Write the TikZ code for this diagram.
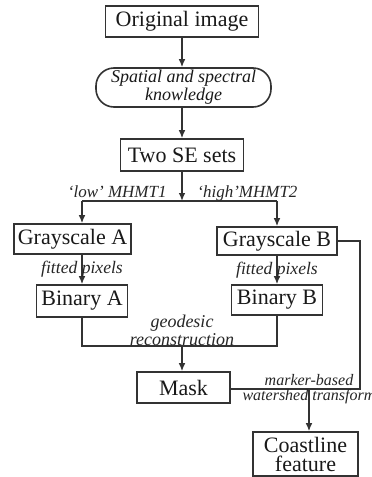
\documentclass[tikz,border=0pt]{standalone}
\usepackage{fontspec}
\setmainfont{Liberation Serif}
\usepackage{tikz}
\usetikzlibrary{arrows.meta, positioning}

\begin{document}
\begin{tikzpicture}[x=0.5pt, y=-0.5pt,
    box/.style={draw=black!80, line width=0.8pt, inner sep=0pt, align=center, text=black!90,
        font=\fontsize{11}{9.5}\selectfont},
    link/.style={draw=black!80, line width=0.75pt},
    arr/.style={link, -{Latex[length=4pt, width=3.4pt]}},
    lab/.style={inner sep=0pt, align=center, text=black!85, font=\fontsize{8}{7.5}\selectfont\itshape}]
    \useasboundingbox (0,0) rectangle (371,477);

    % Main column
    \node[box, minimum width=76.5pt, minimum height=15.5pt] (orig) at (182,21.5) {Original image};
    \node[box, minimum width=87.5pt, minimum height=19.5pt, rounded corners=9pt,
        font=\fontsize{9}{7.5}\selectfont\itshape] (know) at (183.5,87.5) {Spatial and spectral\\knowledge};
    \node[box, minimum width=61.5pt, minimum height=16pt] (twose) at (182,155) {Two SE sets};

    % Two branches
    \node[box, minimum width=58.5pt, minimum height=15pt] (grayA) at (72.5,239) {Grayscale A};
    \node[box, minimum width=60pt, minimum height=14pt] (grayB) at (277,241) {Grayscale B};
    \node[box, minimum width=45.5pt, minimum height=16pt] (binA) at (82,301) {Binary A};
    \node[box, minimum width=45.5pt, minimum height=15pt] (binB) at (277,300) {Binary B};

    % Bottom part
    \node[box, minimum width=46.5pt, minimum height=15.5pt] (mask) at (183.5,387.5) {Mask};
    \node[box, minimum width=52.5pt, minimum height=22pt] (coast) at (305.5,454) {Coastline\\feature};

    % Junction points
    \coordinate (split) at (182,201);
    \coordinate (join) at (182,346);
    \coordinate (rail) at (360,389);
    \coordinate (ws) at (309,389);

    % Connectors
    \draw[arr] (orig) -- (orig |- know.north);
    \draw[arr] (orig |- know.south) -- (orig |- twose.north);
    \draw[arr] (twose) -- (split);
    \draw[link] (split -| binA) -- (split -| grayB);
    \draw[arr] (split -| binA) -- (binA |- grayA.north);
    \draw[arr] (split -| grayB) -- (grayB);
    \draw[arr] (binA |- grayA.south) -- node[lab, font=\fontsize{8.8}{8}\selectfont\itshape] (fitA) {fitted pixels} (binA);
    \draw[arr] (grayB) -- node[lab, font=\fontsize{8.8}{8}\selectfont\itshape] (fitB) {fitted pixels} (binB);
    \draw[link] (binA) |- (join) -| (binB);
    \draw[arr] (join) -- (join |- mask.north);
    \draw[link] (grayB.east) -| (rail) -- (rail -| mask.east);
    \draw[arr] (ws) -- (ws |- coast.north);

    % Labels
    \node[lab, font=\fontsize{8.5}{8}\selectfont\itshape, anchor=base east] (low) at (167,197.5) {‘low’ MHMT1};
    \node[lab, font=\fontsize{8.5}{8}\selectfont\itshape, anchor=base west] (high) at (197,197.5) {‘high’MHMT2};
    \node[lab, font=\fontsize{9}{7.5}\selectfont\itshape, anchor=south] (geo) at (join) {geodesic\\reconstruction};
    \node[lab] (water) at (ws) {marker-based\\watershed transform};
\end{tikzpicture}
\end{document}
